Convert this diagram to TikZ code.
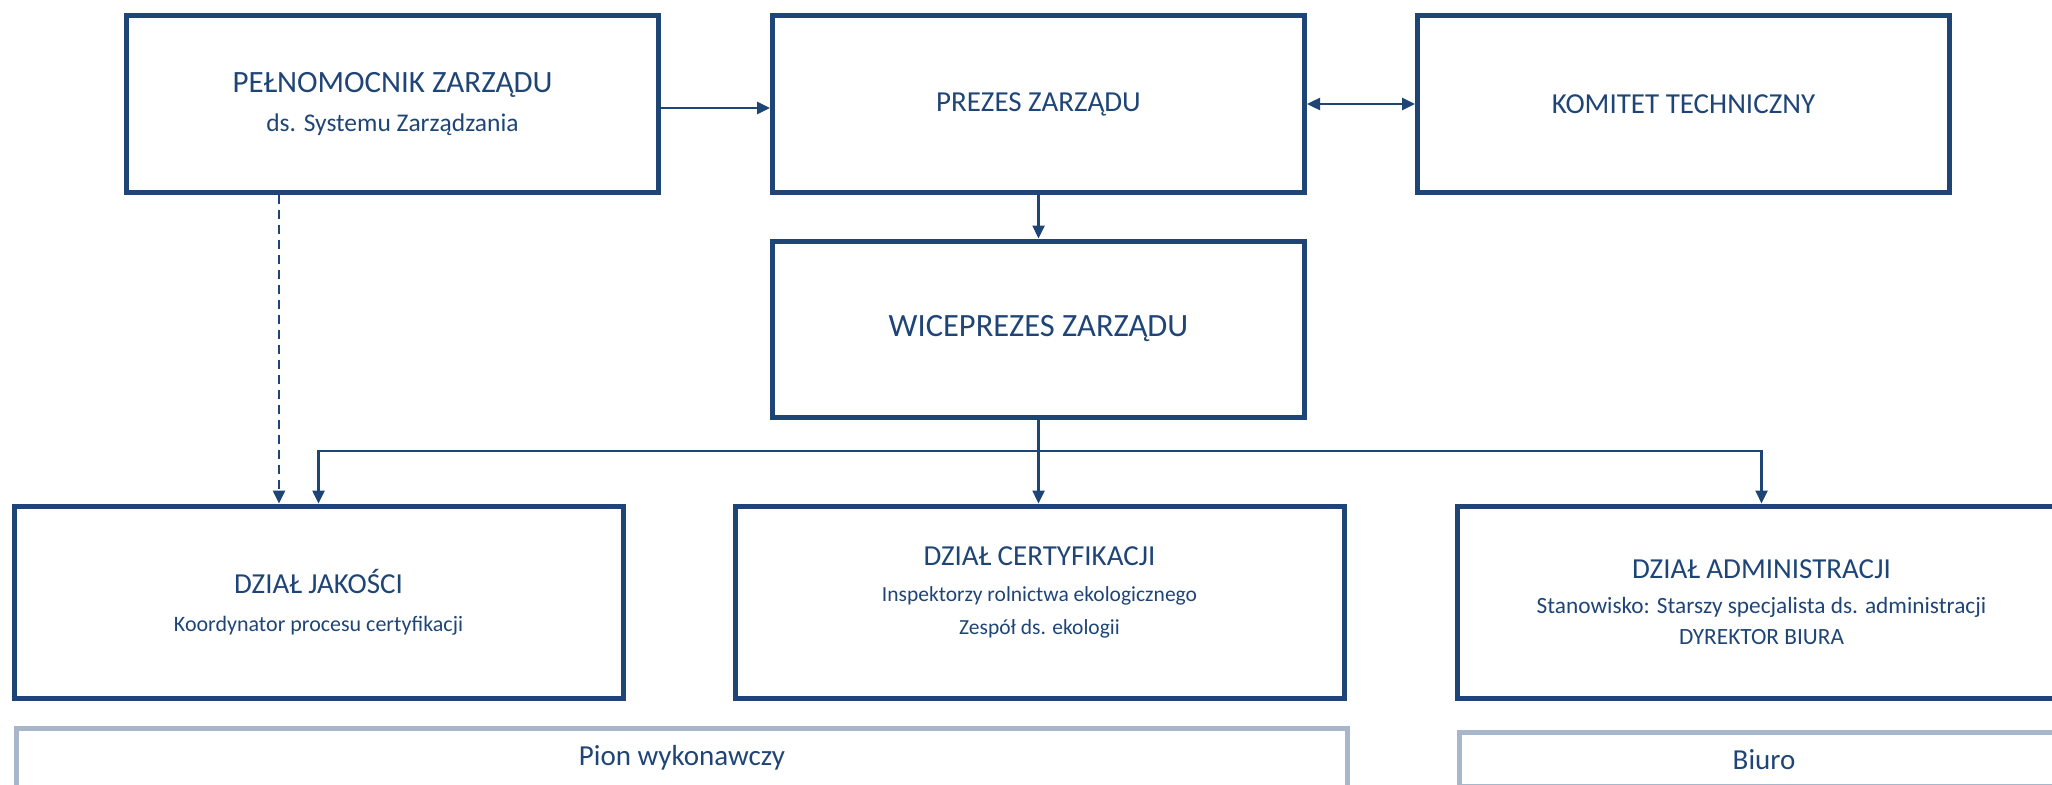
\documentclass[tikz,border=0pt]{standalone}
\usepackage{fontspec}
\setmainfont{Carlito}
\usetikzlibrary{arrows.meta}
\definecolor{orgblue}{HTML}{1F4577}
\definecolor{orggray}{HTML}{A7B6CA}
\newcommand{\subline}[1]{\fontsize{#1}{30}\selectfont}
\newcommand{\headline}[1]{\fontsize{#1}{35}\selectfont}
\tikzset{>={Triangle[length=13pt,width=12pt]}}

\begin{document}
\begin{tikzpicture}[x=1pt, y=-1pt,
    orgunit/.style={draw=orgblue, line width=5pt, text=orgblue, align=center,
        font=\headline{29}, minimum width=532pt, minimum height=176pt, inner sep=0pt},
    deptbox/.style={orgunit, minimum width=609pt, minimum height=192pt},
    groupbox/.style={draw=orggray, line width=5pt, text=orgblue, align=center,
        font=\headline{29}, anchor=north west, inner xsep=0pt, inner ysep=17pt},
    conn/.style={draw=orgblue, line width=2.5pt, ->}]
    \useasboundingbox (0,0) rectangle (2052,784);
    \clip (0,0) rectangle (2052,784);
    % top row
    \node [orgunit, font=\headline{31}] (pel) at (392.5,104) {PEŁNOMOCNIK ZARZĄDU\\[4pt]\subline{25.5}ds. Systemu Zarządzania};
    \node [orgunit] (prezes) at (1038.5,104) {PREZES ZARZĄDU};
    \node [orgunit] (komitet) at (1683.5,104) {KOMITET TECHNICZNY};
    \node [orgunit, font=\headline{32.5}] (wice) at (1038.5,329) {WICEPREZES ZARZĄDU};
    % departments
    \node [deptbox] (jak) at (318.5,602) {DZIAŁ JAKOŚCI\\[3pt]\subline{22}Koordynator procesu certyfikacji};
    \node [deptbox] (cert) at (1039.5,602) {DZIAŁ CERTYFIKACJI\\[1pt]\subline{21.5}Inspektorzy rolnictwa ekologicznego\\[-2pt]\subline{21.5}Zespół ds. ekologii\\[-12pt]\mbox{}};
    \node [deptbox] (admin) at (1761.5,602) {DZIAŁ ADMINISTRACJI\\[0pt]\subline{23.3}Stanowisko: Starszy specjalista ds. administracji\\[-4pt]\subline{23.3}DYREKTOR BIURA};
    % groups
    \node [groupbox, minimum width=1331pt] (pion) at (14,726) {Pion wykonawczy};
    \node [groupbox, minimum width=609pt] (biuro) at (1457,730) {Biuro};
    % connectors
    \coordinate (bus) at (1038.5,451);
    \draw [conn] ([yshift=-4pt]pel.east) -- ([yshift=-4pt]pel.east -| prezes.west);
    \draw [conn, <->] (prezes.east) -- (komitet.west);
    \draw [conn] (prezes.south) -- (wice.north);
    \draw [conn] (wice.south) -- (wice.south |- cert.north);
    \draw [conn] (bus) -| (jak.north);
    \draw [conn] (bus) -| (admin.north);
    \draw [conn, dash pattern=on 9pt off 6pt] ([xshift=-113.5pt]pel.south) -- ([xshift=-113.5pt]pel.south |- jak.north);
\end{tikzpicture}
\end{document}
